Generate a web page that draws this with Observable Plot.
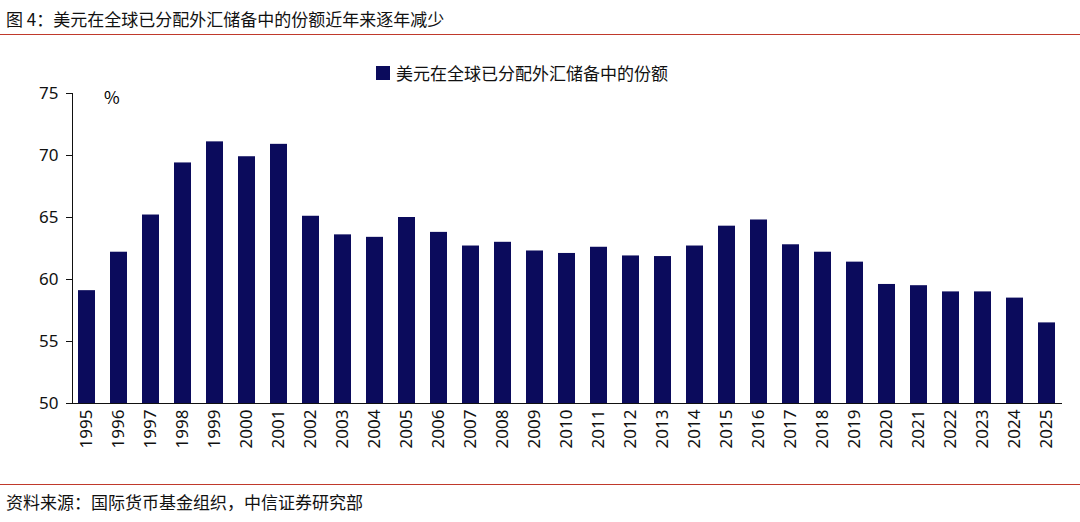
<!DOCTYPE html>
<html><head><meta charset="utf-8">
<script src="https://cdn.jsdelivr.net/npm/d3@7"></script>
<script src="https://cdn.jsdelivr.net/npm/@observablehq/plot@0.6"></script>
<style>
body{margin:0;background:#fff;font-family:"Noto Sans CJK SC","Noto Sans",sans-serif;}
#wrap{position:relative;width:1080px;height:522px;}
#title{position:absolute;left:6px;top:6px;font-size:17px;color:#111;}
#rule{position:absolute;left:0;top:34px;width:1080px;height:1px;background:#c0392b;}
#legend{position:absolute;left:376px;top:60px;font-size:17px;color:#111;display:flex;align-items:center;}
#legend span.sw{display:inline-block;width:14px;height:14px;background:#0b0b5c;margin-right:6px;}
#pct{position:absolute;left:104px;top:84px;font-size:17px;}
#rule2{position:absolute;left:0;top:484px;width:1080px;height:1px;background:#c0392b;}
#src{position:absolute;left:6px;top:489px;font-size:17px;color:#111;}
#chart{position:absolute;left:0;top:0;}
</style></head><body>
<div id="wrap">
<div id="chart"></div>
<div id="title">图 4：美元在全球已分配外汇储备中的份额近年来逐年减少</div>
<div id="rule"></div>
<div id="legend"><span class="sw"></span>美元在全球已分配外汇储备中的份额</div>
<div id="pct">%</div>
<div id="rule2"></div>
<div id="src">资料来源：国际货币基金组织，中信证券研究部</div>
</div>
<script>
const years = ["1995","1996","1997","1998","1999","2000","2001","2002","2003","2004","2005","2006","2007","2008","2009","2010","2011","2012","2013","2014","2015","2016","2017","2018","2019","2020","2021","2022","2023","2024","2025"];
const share = [59.1,62.2,65.2,69.4,71.1,69.9,70.9,65.1,63.6,63.4,65.0,63.8,62.7,63.0,62.3,62.1,62.6,61.9,61.85,62.7,64.3,64.8,62.8,62.2,61.4,59.6,59.5,59.0,59.0,58.5,56.5];
const yTicks = [50,55,60,65,70,75];
const data = years.map((y,i)=>({year:y,v:share[i]}));
const p = Plot.plot({
  width:1080,height:460,marginTop:93,marginBottom:57,marginLeft:72,marginRight:18,
  style:{fontSize:"17px",fontFamily:"Noto Sans, sans-serif",color:"#111",background:"transparent"},
  x:{domain:years,paddingInner:0.46,paddingOuter:0.1,label:null,tickRotate:-90,tickSize:0,tickPadding:6},
  y:{domain:[50,75],ticks:yTicks,label:null,tickSize:6,tickPadding:8},
  marks:[
    Plot.barY(data,{x:"year",y1:50,y2:"v",fill:"#0b0b5c"}),
    Plot.ruleY([50],{stroke:"#111"}),
    Plot.frame({anchor:"left",stroke:"#111"})
  ]
});
document.getElementById("chart").appendChild(p);
</script>
</body></html>
